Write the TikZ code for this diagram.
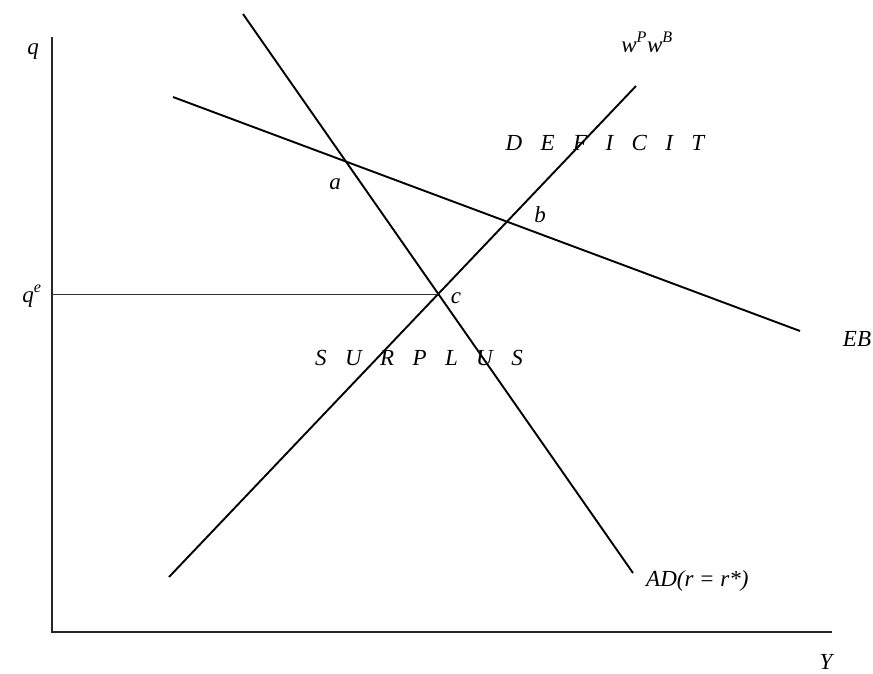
\documentclass[tikz,border=0pt]{standalone}
\usepackage{fontspec}
\setmainfont{Liberation Serif}
\usepackage{tikz}
\usetikzlibrary{positioning}

\newcommand{\gap}{\hspace{0.8em}}

\begin{document}
\begin{tikzpicture}[
  x=1pt, y=-1pt,
  font=\fontsize{23}{26}\selectfont\itshape,
  axisline/.style={line width=1.3pt, draw=black!85},
  curve/.style={line width=1.9pt, draw=black},
  guide/.style={line width=0.9pt, draw=black!80},
  lbl/.style={inner sep=0pt}
]
  \useasboundingbox (0,0) rectangle (873,673);

  % --- axes ---
  \coordinate (o) at (52,632);
  \coordinate (ytop) at (52,37);
  \coordinate (xend) at (832,632);
  \draw[axisline] (ytop) -- (o) -- (xend);
  \node[lbl, anchor=base] (qlab) at (33,54) {q};
  \node[lbl, anchor=base] (ylab) at (826,669) {Y};

  % --- schedules ---
  \coordinate (ad1) at (243,14);
  \coordinate (ad2) at (633,573);
  \coordinate (w1) at (169,577);
  \coordinate (w2) at (636,86);
  \coordinate (eb1) at (173,97);
  \coordinate (eb2) at (800,331);
  \draw[curve] (ad1) -- (ad2);
  \draw[curve] (w1) -- (w2);
  \draw[curve] (eb1) -- (eb2);

  \node[lbl, anchor=base west] (adlab) at (646,586) {AD(r = r*)};
  \node[lbl, anchor=base] (wlab) at (647,52) {w\textsuperscript{P}w\textsuperscript{B}};
  \node[lbl, anchor=base] (eblab) at (857,346) {EB};

  % --- equilibrium q^e ---
  \coordinate (c) at (438,294);
  \coordinate (qe) at (52,294);
  \draw[guide] (qe) -- (c);
  \node[lbl, anchor=base] (qelab) at (32,302) {q\textsuperscript{e}};

  % --- points ---
  \node[lbl, anchor=base] (alab) at (335,189) {a};
  \node[lbl, anchor=base] (blab) at (540,222) {b};
  \node[lbl, anchor=base] (clab) at (456,303) {c};

  % --- regions ---
  \node[lbl, anchor=base] (deficit) at (605,150) {D\gap E\gap F\gap I\gap C\gap I\gap T};
  \node[lbl, anchor=base] (surplus) at (419,365) {S\gap U\gap R\gap P\gap L\gap U\gap S};

\end{tikzpicture}
\end{document}
